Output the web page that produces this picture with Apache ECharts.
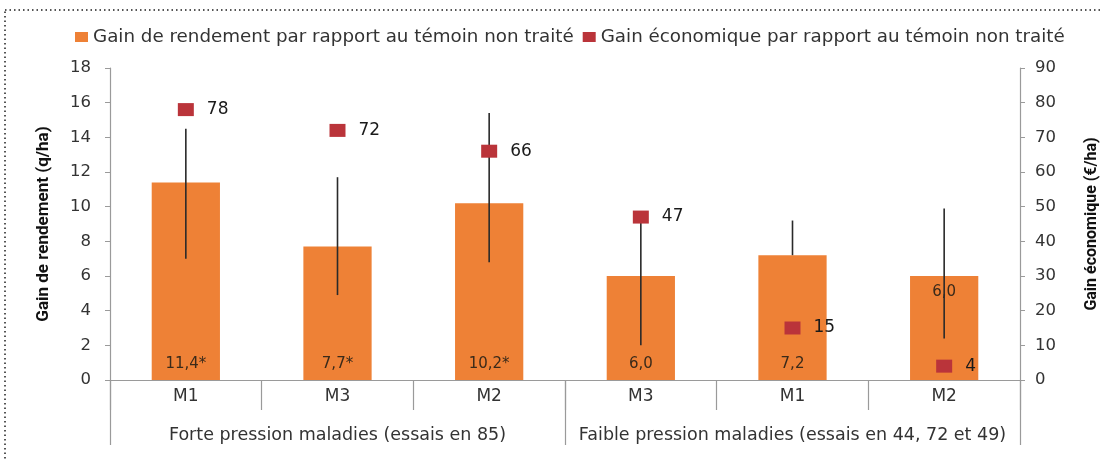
<!DOCTYPE html>
<html>
<head>
<meta charset="utf-8">
<script src="https://cdn.jsdelivr.net/npm/echarts@6/dist/echarts.min.js"></script>
<style>
  html, body { margin: 0; padding: 0; background: #fff; }
  #chart { width: 1102px; height: 459px; }
</style>
</head>
<body>
<div id="chart"></div>
<script>
// categories (two levels)
const categories = ['M1', 'M3', 'M2', 'M3', 'M1', 'M2'];
const groups = ['Forte pression maladies (essais en 85)', 'Faible pression maladies (essais en 44, 72 et 49)'];

// yield gain (q/ha) + labels shown inside the bars
const yieldGain = [11.4, 7.7, 10.2, 6.0, 7.2, 6.0];
const yieldLabels = ['11,4*', '7,7*', '10,2*', '6,0', '7,2', '6,0'];

// error bars on yield gain
const errLow = [7.0, 4.9, 6.8, 2.0, 7.2, 2.4];
const errHigh = [14.5, 11.7, 15.4, 9.4, 9.2, 9.9];

// economic gain (€/ha)
const ecoGain = [78, 72, 66, 47, 15, 4];

const leftTicks = [0, 18, 2];   // min, max, interval
const rightTicks = [0, 90, 10];

const FONT = '"DejaVu Sans", Verdana, sans-serif';
const TXT = '#333';
const AXIS = '#9a9a9a';

let chart = echarts.init(document.getElementById('chart'));

chart.setOption({
  animation: false,
  textStyle: { fontFamily: FONT },
  // dotted frame round the whole figure
  graphic: [{
    type: 'rect',
    shape: { x: 5, y: 10, width: 1110, height: 480 },
    style: { fill: 'none', stroke: '#555', lineWidth: 2, lineDash: [1.5, 3] },
    silent: true
  }],
  legend: {
    top: 23,
    left: 70,
    itemWidth: 13,
    itemHeight: 10,
    itemGap: 9,
    icon: 'rect',
    textStyle: { color: TXT, fontSize: 18.3, fontFamily: FONT },
    data: ['Gain de rendement par rapport au témoin non traité', 'Gain économique par rapport au témoin non traité']
  },
  grid: { left: 110, right: 82, top: 68, bottom: 79, outerBoundsMode: 'none' },
  xAxis: [
    {
      type: 'category',
      data: categories,
      axisLine: { lineStyle: { color: AXIS, width: 1.2 } },
      axisTick: { show: true, length: 30, lineStyle: { color: AXIS, width: 1.2 } },
      axisLabel: { color: TXT, fontSize: 17, margin: 8, interval: 0 }
    },
    {
      type: 'category',
      position: 'bottom',
      data: groups,
      axisLine: { show: false },
      axisTick: { show: true, length: 65, lineStyle: { color: AXIS, width: 1.2 } },
      axisLabel: { color: TXT, fontSize: 17.5, margin: 46, interval: 0 }
    }
  ],
  yAxis: [
    {
      type: 'value',
      min: leftTicks[0], max: leftTicks[1], interval: leftTicks[2],
      name: 'Gain de rendement (q/ha)',
      nameLocation: 'middle',
      nameGap: 58,
      nameTextStyle: { color: '#111', fontSize: 17, fontWeight: 'bold', fontFamily: 'Roboto, sans-serif' },
      axisLine: { show: true, lineStyle: { color: AXIS, width: 1.2 } },
      axisTick: { show: true, length: 5, lineStyle: { color: AXIS } },
      axisLabel: { color: TXT, fontSize: 16.5, margin: 19 },
      splitLine: { show: false }
    },
    {
      type: 'value',
      min: rightTicks[0], max: rightTicks[1], interval: rightTicks[2],
      name: 'Gain économique (€/ha)',
      nameLocation: 'middle',
      nameGap: 64,
      nameRotate: 90,
      nameTextStyle: { color: '#111', fontSize: 16, fontWeight: 'bold', fontFamily: 'Roboto, sans-serif' },
      axisLine: { show: true, lineStyle: { color: AXIS, width: 1.2 } },
      axisTick: { show: true, length: 5, lineStyle: { color: AXIS } },
      axisLabel: { color: TXT, fontSize: 16.5, margin: 15 },
      splitLine: { show: false }
    }
  ],
  series: [
    {
      name: 'Gain de rendement par rapport au témoin non traité',
      type: 'bar',
      xAxisIndex: 0,
      yAxisIndex: 0,
      barWidth: '45%',
      itemStyle: { color: '#EE8136' },
      z: 2,
      label: {
        show: true,
        position: 'insideBottom',
        distance: 8,
        color: '#3a2a1a',
        fontSize: 15,
        formatter: p => yieldLabels[p.dataIndex]
      },
      data: yieldGain.map((v, i) => i === 5
        ? { value: v, label: { position: 'insideTop', distance: 9 } }
        : v)
    },
    {
      name: 'errors',
      type: 'custom',
      xAxisIndex: 0,
      yAxisIndex: 0,
      z: 3,
      silent: true,
      renderItem: function (params, api) {
        let x = api.value(0);
        let lo = api.coord([x, api.value(1)]);
        let hi = api.coord([x, api.value(2)]);
        return {
          type: 'line',
          shape: { x1: lo[0], y1: lo[1], x2: hi[0], y2: hi[1] },
          style: { stroke: '#2a2a2a', lineWidth: 1.6 }
        };
      },
      encode: { x: 0, y: [1, 2] },
      data: categories.map((c, i) => [i, errLow[i], errHigh[i]])
    },
    {
      name: 'Gain économique par rapport au témoin non traité',
      type: 'scatter',
      xAxisIndex: 0,
      yAxisIndex: 1,
      symbol: 'rect',
      symbolSize: [16, 13],
      itemStyle: { color: '#BA343A', opacity: 1 },
      z: 4,
      label: {
        show: true,
        position: 'right',
        distance: 13,
        color: '#1a1a1a',
        fontSize: 17
      },
      data: ecoGain
    }
  ]
});
</script>
</body>
</html>
